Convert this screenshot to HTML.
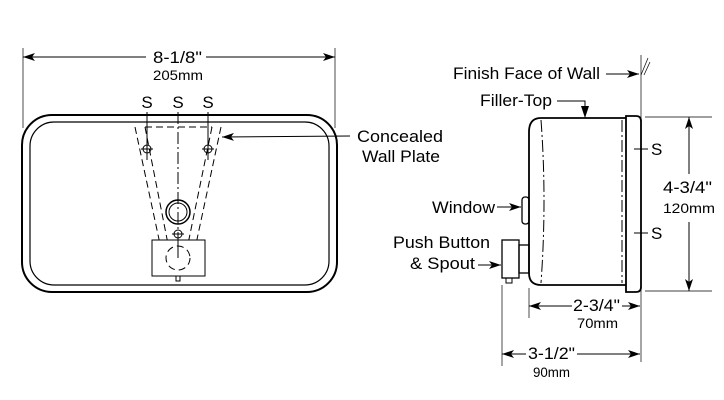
<!DOCTYPE html>
<html><head><meta charset="utf-8"><style>
html,body{margin:0;padding:0;background:#fff;}
svg{display:block;}
text{font-family:"Liberation Sans",sans-serif;fill:#000;}
.l{font-size:17px;}
.m{font-size:14px;}
</style></head><body>
<svg width="724" height="400" viewBox="0 0 724 400" xmlns="http://www.w3.org/2000/svg">
<defs>
<marker id="a" viewBox="0 0 12 8" refX="12" refY="4" markerWidth="12" markerHeight="8" orient="auto-start-reverse" markerUnits="userSpaceOnUse"><path d="M0,0 L12,4 L0,8 L3,4z" fill="#000"/></marker>
</defs>
<g stroke="#000" fill="none" stroke-width="1">
<line x1="23" y1="48" x2="23" y2="128" stroke-width="0.7"/>
<line x1="335" y1="48" x2="335" y2="128" stroke-width="0.7"/>
<line x1="23" y1="57" x2="146" y2="57" marker-start="url(#a)"/>
<line x1="206" y1="57" x2="335" y2="57" marker-end="url(#a)"/>
<rect x="22" y="115" width="315" height="177" rx="30" stroke-width="2"/>
<rect x="30" y="122" width="299" height="163" rx="24" stroke-width="1.2"/>
<line x1="147" y1="112" x2="147" y2="160"/>
<line x1="208" y1="112" x2="208" y2="160"/>
<line x1="178" y1="112" x2="178" y2="262" stroke-dasharray="12,3,2,3"/>
<g stroke-dasharray="7,4">
<line x1="145" y1="127" x2="212" y2="127"/>
<line x1="135" y1="127" x2="160" y2="244"/>
<line x1="145" y1="127" x2="168" y2="244"/>
<line x1="221" y1="127" x2="196" y2="244"/>
<line x1="212" y1="127" x2="188" y2="244"/>
<line x1="160" y1="243" x2="198" y2="243"/>
</g>
<circle cx="147" cy="149" r="4"/><line x1="141" y1="149" x2="153" y2="149"/>
<circle cx="208" cy="149" r="4"/><line x1="202" y1="149" x2="214" y2="149"/>
<circle cx="178" cy="212" r="12" stroke-width="1.5"/>
<circle cx="178" cy="212" r="9"/>
<circle cx="178" cy="234" r="4"/><line x1="172" y1="234" x2="184" y2="234"/>
<rect x="152" y="240" width="53" height="36" fill="#fff"/>
<line x1="178" y1="240" x2="178" y2="258"/>
<circle cx="178" cy="258" r="12" stroke-dasharray="7,4"/>
<rect x="176" y="276" width="4" height="5"/>
<line x1="350" y1="136" x2="222" y2="137" marker-end="url(#a)"/>
<line x1="641" y1="55" x2="641" y2="362" stroke-width="0.7"/>
<line x1="641" y1="75" x2="648" y2="58" stroke-width="0.7"/>
<line x1="644" y1="75" x2="650" y2="62" stroke-width="0.7"/>
<line x1="606" y1="74" x2="639" y2="74" marker-end="url(#a)"/>
<polyline points="557,101 585,101 585,118"/>
<path d="M585,106 l-4,-0 l4,12 l4,-12z" fill="#000" stroke="none"/>
<path d="M626,118 L541,118 Q529,118 529,132 L529,273 Q529,285 541,285 L626,285" stroke-width="1.8"/>
<path d="M626,116 L636,116 Q641,116 641,121 L641,287 Q641,292 636,292 L626,292 Z" stroke-width="1.8"/>
<path d="M541,120 Q547,200 541,283" stroke-dasharray="12,3,2,3"/>
<line x1="622" y1="120" x2="622" y2="283" stroke-dasharray="12,3,2,3"/>
<line x1="626" y1="120" x2="626" y2="283" stroke-dasharray="12,3,2,3"/>
<line x1="634" y1="149" x2="648" y2="149"/>
<line x1="634" y1="233" x2="648" y2="233"/>
<rect x="522" y="197" width="7" height="27" rx="3" stroke-width="1.3"/>
<line x1="497" y1="207" x2="521" y2="207" marker-end="url(#a)"/>
<rect x="502" y="240" width="17" height="38" stroke-width="1.3"/>
<rect x="519" y="245" width="10" height="28" stroke-width="1.3"/>
<rect x="506" y="278" width="6" height="5"/>
<line x1="478" y1="265" x2="501" y2="265" marker-end="url(#a)"/>
<line x1="645" y1="117" x2="712" y2="117" stroke-width="0.7"/>
<line x1="645" y1="291" x2="712" y2="291" stroke-width="0.7"/>
<line x1="689" y1="117" x2="689" y2="174" marker-start="url(#a)"/>
<line x1="689" y1="222" x2="689" y2="291" marker-end="url(#a)"/>
<line x1="529" y1="288" x2="529" y2="318" stroke-width="0.7"/>
<line x1="502" y1="285" x2="502" y2="366" stroke-width="0.7"/>
<line x1="529" y1="306" x2="572" y2="306" marker-start="url(#a)"/>
<line x1="622" y1="306" x2="640" y2="306" marker-end="url(#a)"/>
<line x1="502" y1="354" x2="526" y2="354" marker-start="url(#a)"/>
<line x1="577" y1="354" x2="640" y2="354" marker-end="url(#a)"/>
</g>
<text class="l" x="153" y="63" textLength="49" lengthAdjust="spacingAndGlyphs">8-1/8"</text>
<text class="m" x="153" y="80" textLength="50" lengthAdjust="spacingAndGlyphs">205mm</text>
<text class="l" x="147" y="108" text-anchor="middle">S</text>
<text class="l" x="178" y="108" text-anchor="middle">S</text>
<text class="l" x="208" y="108" text-anchor="middle">S</text>
<text class="l" x="357" y="142" textLength="86" lengthAdjust="spacingAndGlyphs">Concealed</text>
<text class="l" x="362" y="162" textLength="78" lengthAdjust="spacingAndGlyphs">Wall Plate</text>
<text class="l" x="453" y="79" textLength="147" lengthAdjust="spacingAndGlyphs">Finish Face of Wall</text>
<text class="l" x="480" y="106" textLength="72" lengthAdjust="spacingAndGlyphs">Filler-Top</text>
<text class="l" x="651" y="155">S</text>
<text class="l" x="651" y="239">S</text>
<text class="l" x="432" y="213" textLength="63" lengthAdjust="spacingAndGlyphs">Window</text>
<text class="l" x="393" y="248" textLength="97" lengthAdjust="spacingAndGlyphs">Push Button</text>
<text class="l" x="410" y="269" textLength="65" lengthAdjust="spacingAndGlyphs">&amp; Spout</text>
<text class="l" x="663" y="193" textLength="49" lengthAdjust="spacingAndGlyphs">4-3/4"</text>
<text class="m" x="663" y="213" textLength="52" lengthAdjust="spacingAndGlyphs">120mm</text>
<text class="l" x="573" y="311" textLength="47" lengthAdjust="spacingAndGlyphs">2-3/4"</text>
<text class="m" x="577" y="328" textLength="41" lengthAdjust="spacingAndGlyphs">70mm</text>
<text class="l" x="528" y="359" textLength="47" lengthAdjust="spacingAndGlyphs">3-1/2"</text>
<text class="m" x="533" y="377" textLength="37" lengthAdjust="spacingAndGlyphs">90mm</text>
</svg>
</body></html>
